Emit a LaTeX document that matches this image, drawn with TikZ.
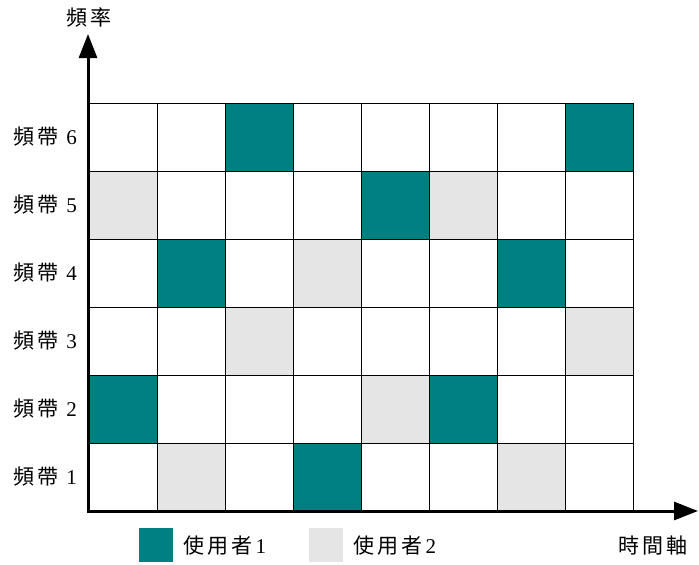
\documentclass[tikz,border=0pt]{standalone}
\usepackage{fontspec}
\setmainfont{Liberation Serif}
\newfontfamily\cjk[LetterSpace=15]{Noto Sans CJK TC}
\usetikzlibrary{arrows.meta}
\definecolor{uteal}{HTML}{008080}
\definecolor{ugray}{HTML}{E5E5E5}
\begin{document}
\begin{tikzpicture}[x=1pt,y=-1pt,
  cell/.style={draw=black,line width=1pt},
  tealcell/.style={cell,fill=uteal},
  graycell/.style={cell,fill=ugray},
  axis/.style={line width=3pt,-{Triangle[length=24pt,width=18pt]}},
  lbl/.style={font=\fontsize{21}{23}\selectfont,inner sep=0pt},
]
\useasboundingbox (0,0) rectangle (699,565);
% grid: columns 0..7, rows 0..5 (row 0 = top = band 6)
\foreach \c in {0,...,7}{
  \foreach \r in {0,...,5}{
    \draw[cell] ({89+68*\c},{103+68*\r}) rectangle ++(68,68);
  }
}
% teal cells (col,row)
\foreach \c/\r in {2/0,7/0,4/1,1/2,6/2,0/4,5/4,3/5}{
  \draw[tealcell] ({89+68*\c},{103+68*\r}) rectangle ++(68,68);
}
% gray cells
\foreach \c/\r in {0/1,5/1,3/2,2/3,7/3,4/4,1/5,6/5}{
  \draw[graycell] ({89+68*\c},{103+68*\r}) rectangle ++(68,68);
}
% axes
\coordinate (o) at (88,511);
\coordinate (ytip) at (88,34);
\coordinate (xtip) at (698,511);
\draw[axis] (o) -- (ytip);
\draw[axis] ([xshift=-1.5pt]o) -- (xtip);
% labels
\node[lbl] (ylab) at (89,17) {\cjk 頻率};
\foreach \n/\r in {6/0,5/1,4/2,3/3,2/4,1/5}{
  \node[lbl,anchor=west] (b\n) at (13,{137+68*\r}) {{\cjk 頻帶}\hspace{8pt}\n};
}
\node[lbl,anchor=east] (xlab) at (688,546) {\cjk 時間軸};
% legend
\node[fill=uteal,minimum size=34pt,inner sep=0pt] (k1) at (156,545) {};
\node[lbl,anchor=west] (k1t) at (183,546) {{\cjk 使用者}\hspace{3pt}1};
\node[fill=ugray,minimum size=34pt,inner sep=0pt] (k2) at (326,545) {};
\node[lbl,anchor=west] (k2t) at (353,546) {{\cjk 使用者}\hspace{3pt}2};
\end{tikzpicture}
\end{document}
